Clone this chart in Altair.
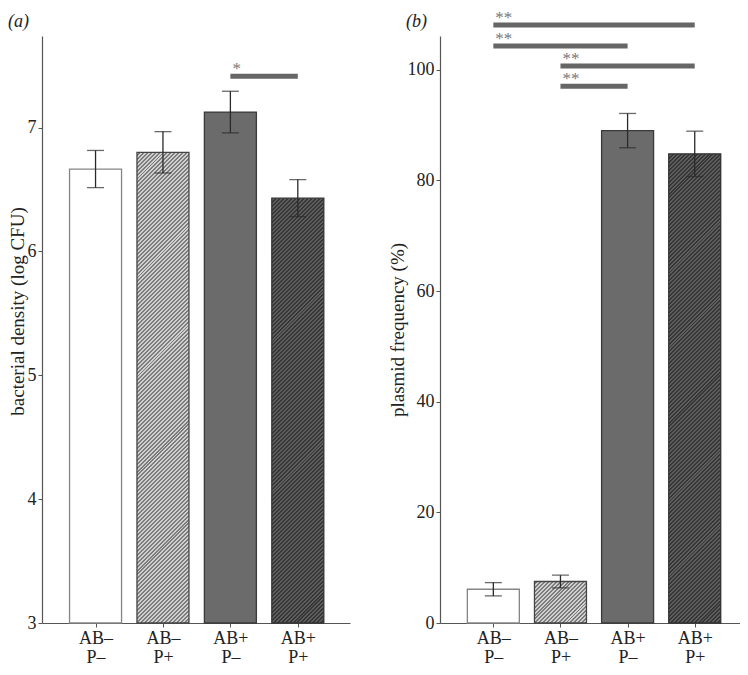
import altair as alt

FONT = "Liberation Serif"

groups = ["AB–\nP–", "AB–\nP+", "AB+\nP–", "AB+\nP+"]
idx = [0, 1, 2, 3]
density = [6.665, 6.80, 7.125, 6.43]
density_err = [0.15, 0.167, 0.168, 0.15]
plasmid = [6.1, 7.5, 89.0, 84.8]
plasmid_err = [1.2, 1.15, 3.1, 4.1]

sig_a_from = [2]
sig_a_to = [3]
sig_a_y = [7.415]
sig_a_text = ["*"]

sig_b_from = [0, 0, 1, 1]
sig_b_to = [3, 2, 3, 2]
sig_b_y = [108.1, 104.3, 100.7, 97.0]
sig_b_text = ["**", "**", "**", "**"]

PLOT_H = 587
BAR_W = 52
strokes = ["#858585", "#444444", "#3a3a3a", "#333333"]

label_js = "[" + ",".join("'" + g.replace("\n", "\\n") + "'" for g in groups) + "]"


def hatch(gid, w, h, base, line, period=2.8):
    """Diagonal (/) hatching as a striped linear gradient over the bar's box."""
    n = max(2, int(round((w + h) / (period * 2 ** 0.5))))
    stops = []
    for k in range(n):
        a, m, b = k / n, (k + 0.5) / n, (k + 1) / n
        stops += [{"offset": a, "color": base}, {"offset": m, "color": base},
                  {"offset": m, "color": line}, {"offset": b, "color": line}]
    s = (w + h) / (w * w + h * h)
    return {"id": gid, "gradient": "linear", "x1": 0, "y1": 0,
            "x2": w * s, "y2": h * s, "stops": stops}


def panel(values, errs, domain, ticks, ytitle, sfrom, sto, sy, stext, tag,
          width, xdomain, key, title_y=None):
    ppu = PLOT_H / (domain[1] - domain[0])
    fills = [
        "#ffffff",
        hatch("hatch_" + key + "1", BAR_W, (values[1] - domain[0]) * ppu, "#d0d0d0", "#7c7c7c"),
        "#6b6b6b",
        hatch("hatch_" + key + "3", BAR_W, (values[3] - domain[0]) * ppu, "#363636", "#5e5e5e"),
    ]
    recs = []
    for i, v, e, f, s in zip(idx, values, errs, fills, strokes):
        recs.append({"i": i, "v": v, "lo": v - e, "hi": v + e, "base": domain[0],
                     "fill": f, "stroke": s})
    data = alt.Data(values=recs)
    xs = alt.Scale(domain=xdomain, nice=False, zero=False)
    ys = alt.Scale(domain=domain, nice=False, zero=False)
    xax = alt.Axis(values=idx, title=None, grid=False,
                   labelExpr="split(" + label_js + "[datum.value], '\\n')",
                   labelLineHeight=19, labelPadding=2, tickSize=4,
                   labelAngle=0)
    yargs = dict(values=ticks, title=ytitle, grid=False, tickSize=4,
                 labelPadding=2, titlePadding=0, format="d")
    if title_y is not None:
        yargs["titleY"] = title_y
    yax = alt.Axis(**yargs)
    bars = alt.Chart(data).mark_bar(size=BAR_W, strokeWidth=1.3).encode(
        x=alt.X("i:Q", scale=xs, axis=xax),
        y=alt.Y("v:Q", scale=ys, axis=yax),
        y2="base:Q",
        color=alt.Color("fill:N", scale=None),
        stroke=alt.Stroke("stroke:N", scale=None),
    )
    err = alt.Chart(data).mark_rule(color="#2a2a2a", strokeWidth=1.3).encode(
        x=alt.X("i:Q", scale=xs), y=alt.Y("lo:Q", scale=ys), y2="hi:Q")
    cap_lo = alt.Chart(data).mark_tick(orient="horizontal", size=17, thickness=1.3,
                                       color="#2a2a2a").encode(
        x=alt.X("i:Q", scale=xs), y=alt.Y("lo:Q", scale=ys))
    cap_hi = alt.Chart(data).mark_tick(orient="horizontal", size=17, thickness=1.3,
                                       color="#2a2a2a").encode(
        x=alt.X("i:Q", scale=xs), y=alt.Y("hi:Q", scale=ys))
    sdata = alt.Data(values=[{"a": a, "b": b, "y": y, "t": t}
                             for a, b, y, t in zip(sfrom, sto, sy, stext)])
    srule = alt.Chart(sdata).mark_rule(strokeWidth=5, color="#666666", strokeCap="butt").encode(
        x=alt.X("a:Q", scale=xs), x2="b:Q", y=alt.Y("y:Q", scale=ys))
    stxt = alt.Chart(sdata).mark_text(align="left", baseline="alphabetic", dx=2, dy=-2,
                                      font=FONT, fontSize=17, color="#777777").encode(
        x=alt.X("a:Q", scale=xs), y=alt.Y("y:Q", scale=ys), text="t:N")
    tagm = alt.Chart(alt.Data(values=[{"t": tag}])).mark_text(
        align="left", baseline="middle", font=FONT, fontSize=18, fontStyle="italic",
        color="#222222").encode(x=alt.value(-34), y=alt.value(-14), text="t:N")
    return alt.layer(bars, err, cap_lo, cap_hi, srule, stxt, tagm).properties(
        width=width, height=PLOT_H)


left = panel(density, density_err, [3, 7.739], [3, 4, 5, 6, 7],
             "bacterial density (log CFU)", sig_a_from, sig_a_to, sig_a_y, sig_a_text,
             "(a)", 308, [-0.72, 3.7], "a", title_y=275)
right = panel(plasmid, plasmid_err, [0, 106.1], [0, 20, 40, 60, 80, 100],
              "plasmid frequency (%)", sig_b_from, sig_b_to, sig_b_y, sig_b_text,
              "(b)", 300, [-0.72, 3.6], "b")

chart = alt.hconcat(left, right, spacing=90, bounds="flush").properties(
    padding={"left": 0, "top": 0, "right": 0, "bottom": 0}
).configure_view(stroke=None).configure_axis(
    domainColor="#555555", tickColor="#555555", domainWidth=1.2, tickWidth=1,
    labelFont=FONT, labelFontSize=18, labelColor="#222222",
    titleFont=FONT, titleFontSize=19, titleFontWeight="normal", titleColor="#222222",
)

chart.save("out.html", embed_options={"renderer": "svg", "actions": False})
